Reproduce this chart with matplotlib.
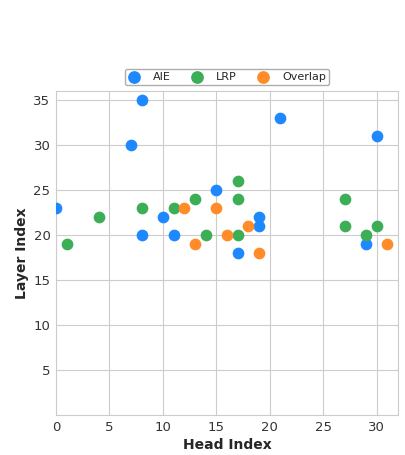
import matplotlib
matplotlib.use("Agg")
import matplotlib.pyplot as plt
import seaborn as sns

# head/layer positions of the selected heads
aie_heads = [8, 7, 21, 30, 15, 0, 10, 19, 19, 8, 11, 17, 29]
aie_layers = [35, 30, 33, 31, 25, 23, 22, 22, 21, 20, 20, 18, 19]

lrp_heads = [1, 4, 8, 11, 13, 17, 17, 14, 17, 27, 27, 29, 30]
lrp_layers = [19, 22, 23, 23, 24, 26, 24, 20, 20, 24, 21, 20, 21]

overlap_heads = [12, 15, 13, 16, 18, 19, 31]
overlap_layers = [23, 23, 19, 20, 21, 18, 19]

x_ticks = [0, 5, 10, 15, 20, 25, 30]
y_ticks = [5, 10, 15, 20, 25, 30, 35]

sns.set_style("whitegrid")
plt.rcParams['font.family'] = ['DejaVu Sans']

fig = plt.figure(figsize=(4.05, 4.55), dpi=100)
ax = fig.add_axes([56 / 405, 40 / 455, 342 / 405, 324 / 455])

ax.scatter(aie_heads, aie_layers, color='#1e88ff', s=55, label='AIE', zorder=3)
ax.scatter(lrp_heads, lrp_layers, color='#3cae55', s=55, label='LRP', zorder=3)
ax.scatter(overlap_heads, overlap_layers, color='#ff8c28', s=55, label='Overlap', zorder=3)

ax.set_xlim(0, 32)
ax.set_ylim(0, 36)
ax.set_xticks(x_ticks)
ax.set_yticks(y_ticks)
ax.tick_params(labelsize=9.5, colors='#333333', length=0, pad=4)
for s in ax.spines.values():
    s.set_color('#cccccc')
ax.set_xlabel('Head Index', fontsize=10, fontweight='bold', color='#262626', labelpad=3)
ax.set_ylabel('Layer Index', fontsize=10, fontweight='bold', color='#262626', labelpad=3)

ax.legend(loc='lower center', bbox_to_anchor=(0.5, 1.0), ncol=3, fontsize=8,
          frameon=True, edgecolor='#999999', fancybox=True, columnspacing=1.9,
          borderpad=0.3, handlelength=1.0, handletextpad=1.2, markerscale=1.1)

plt.savefig('out.png', dpi=100)
